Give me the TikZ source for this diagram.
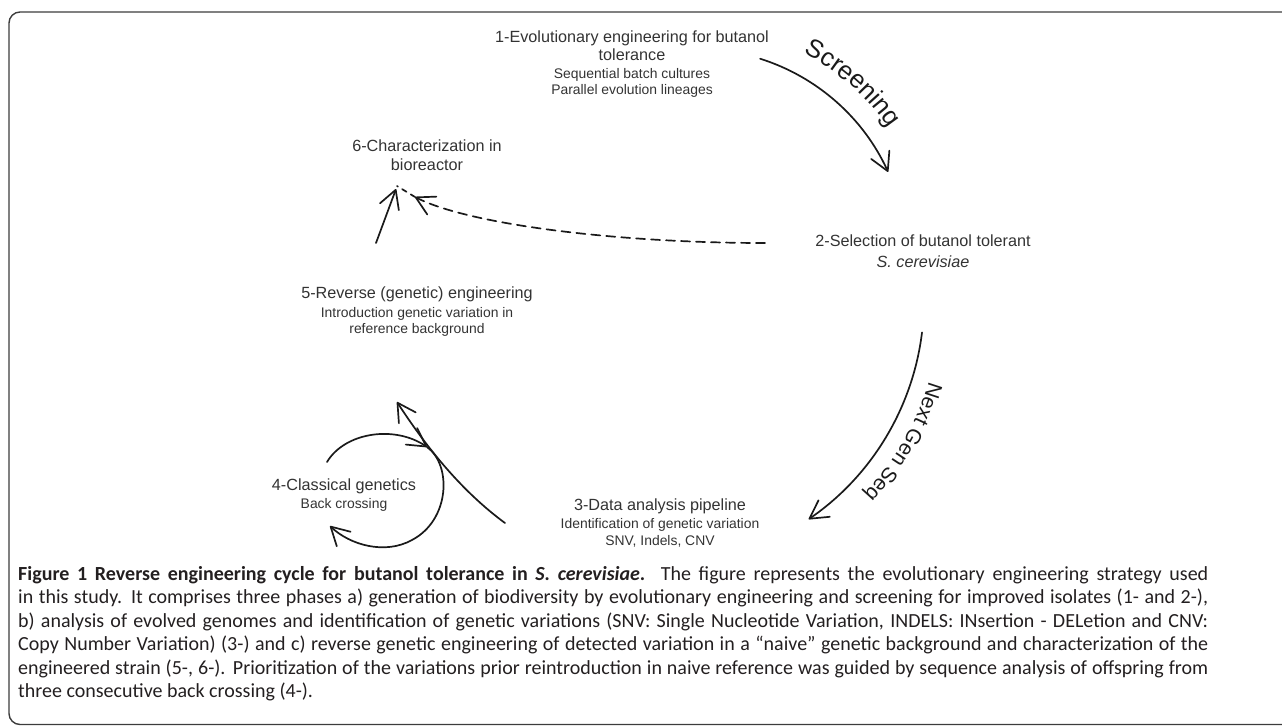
\documentclass[tikz,border=0pt]{standalone}
\usepackage{fontspec}
\setmainfont{Liberation Sans}
\newfontfamily\capfont{Carlito}
\usetikzlibrary{arrows.meta,decorations.text,calc}
\definecolor{txt}{HTML}{333333}
\definecolor{ink}{HTML}{1A1A1A}
\definecolor{capc}{HTML}{231F20}
\definecolor{framec}{HTML}{3C3C3C}
\begin{document}
\begin{tikzpicture}[x=1pt,y=-1pt,
  ttl/.style={anchor=base, inner sep=0pt, text=txt, font=\fontsize{16.2}{19}\selectfont},
  subt/.style={anchor=base, inner sep=0pt, text=txt, font=\fontsize{13.9}{16}\selectfont},
  capline/.style={anchor=base west, inner sep=0pt, text=capc, font=\capfont\fontsize{20}{24}\selectfont},
  penline/.style={draw=ink, line width=1.7pt, line cap=round},
  barb/.style={-{Straight Barb[length=18pt,width=20pt,round]}},
]
\useasboundingbox (0,0) rectangle (1282,726);
% frame
\draw[draw=framec, line width=1.4pt, rounded corners=11pt]
  (1300,12) -- (9,12) -- (9,724.5) -- (1300,724.5);

% node 1
\node[ttl] (t1a) at (632,42.7) {1-Evolutionary engineering for butanol};
\node[ttl] (t1b) at (632,60.7) {tolerance};
\node[subt] (s1a) at (632,78) {Sequential batch cultures};
\node[subt] (s1b) at (632,94) {Parallel evolution lineages};
% node 2
\node[ttl] (t2a) at (923,246.7) {2-Selection of butanol tolerant};
\node[ttl] (t2b) at (923,267.7) {\itshape S. cerevisiae};
% node 3
\node[ttl] (t3a) at (660,510.7) {3-Data analysis pipeline};
\node[subt] (s3a) at (660,528) {Identification of genetic variation};
\node[subt] (s3b) at (660,545) {SNV, Indels, CNV};
% node 4
\node[ttl] (t4a) at (344,490.7) {4-Classical genetics};
\node[subt] (s4a) at (344,508) {Back crossing};
% node 5
\node[ttl] (t5a) at (417,298.7) {5-Reverse (genetic) engineering};
\node[subt] (s5a) at (417,317) {Introduction genetic variation in};
\node[subt] (s5b) at (417,333) {reference background};
% node 6
\node[ttl] (t6a) at (427,151.7) {6-Characterization in};
\node[ttl] (t6b) at (427,170.7) {bioreactor};

% Screening arrow
\coordinate (scrC) at (697,259);
\draw[penline, barb] ($(scrC)+(-72.5:210)$) arc[start angle=-72.5, end angle=-24.5, radius=210];
\path[decorate, decoration={text along path, text align=center, text color=ink,
  text={|\fontsize{25.5}{25.5}\selectfont|Screening}}]
  ($(scrC)+(-73:232)$) arc[start angle=-73, end angle=-24, radius=232];

% Next Gen Seq arrow
\coordinate (ngsC) at (658,300);
\draw[penline, barb] ($(ngsC)+(7:266)$) arc[start angle=7, end angle=55.5, radius=266];
\path[decorate, decoration={text along path, text align=center, text color=ink,
  text={|\fontsize{21}{21}\selectfont|Next Gen Seq}}]
  ($(ngsC)+(10:283)$) arc[start angle=10, end angle=50, radius=283];

% dashed arrow 2 -> 6
\coordinate (dA) at (765,243);
\coordinate (dTip) at (415,197);
\coordinate (dEnd) at (397,186);
\draw[penline, barb, dash pattern=on 9pt off 6pt] (dA) .. controls (620,243) and (470,225) .. (dTip);
\draw[penline, dash pattern=on 5pt off 5pt] (dTip) -- (dEnd);

% 5 -> 6 arrow
\coordinate (uA) at (376,243);
\coordinate (uTip) at (396,189);
\draw[penline, barb] (uA) -- (uTip);

% 3 -> 4 line
\coordinate (lA) at (505,523);
\coordinate (lTip) at (397,402);
\draw[penline, barb] (lA) .. controls (460,490) and (425,445) .. (lTip);

% back crossing loop
\coordinate (cS) at (327,462);
\coordinate (cM) at (427,447);
\coordinate (cE) at (330,526);
\draw[penline, barb] (cS) .. controls (345,432) and (395,425) .. (cM);
\draw[penline, barb] (cM) .. controls (452,465) and (450,520) .. (412,540)
  .. controls (385,555) and (350,545) .. (cE);

% caption
\node[capline] (cap1) at (18,580) {\makebox[1190pt][s]{\bfseries Figure 1 Reverse engineering cycle for butanol tolerance in \itshape S. cerevisiae\upshape. \mdseries The figure represents the evolutionary engineering strategy used}};
\node[capline] (cap2) at (18,603.5) {\makebox[1190pt][s]{in this study. It comprises three phases a) generation of biodiversity by evolutionary engineering and screening for improved isolates (1- and 2-),}};
\node[capline] (cap3) at (18,627) {\makebox[1190pt][s]{b) analysis of evolved genomes and identification of genetic variations (SNV: Single Nucleotide Variation, INDELS: INsertion - DELetion and CNV:}};
\node[capline] (cap4) at (18,650.5) {\makebox[1190pt][s]{Copy Number Variation) (3-) and c) reverse genetic engineering of detected variation in a “naive” genetic background and characterization of the}};
\node[capline] (cap5) at (18,674) {\makebox[1190pt][s]{engineered strain (5-, 6-). Prioritization of the variations prior reintroduction in naive reference was guided by sequence analysis of offspring from}};
\node[capline] (cap6) at (18,697.5) {three consecutive back crossing (4-).};
\end{tikzpicture}
\end{document}
